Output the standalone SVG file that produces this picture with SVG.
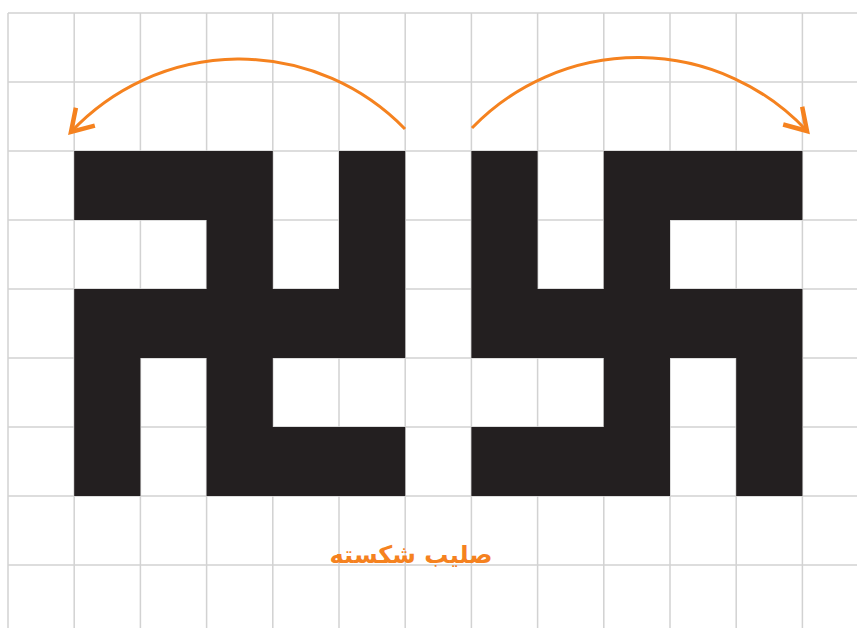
<svg xmlns="http://www.w3.org/2000/svg" width="857" height="628" viewBox="0 0 857 628">
<style>
.g{stroke:#d2d2d2;stroke-width:1.5;fill:none}
.blk{fill:#231f20}
.arc{fill:none;stroke:#f5821f;stroke-width:3}
.lbl{font-family:"DejaVu Sans",sans-serif;font-size:24px;font-weight:bold;fill:#f5821f}
</style>
<defs>
<marker id="ah" markerUnits="userSpaceOnUse" viewBox="-26 -16 30 32" refX="0" refY="0" markerWidth="30" markerHeight="32" orient="auto" overflow="visible">
<path d="M-21,-13 L0,0 L-21,13" fill="none" stroke="#f5821f" stroke-width="4.5" stroke-linejoin="miter"/>
</marker>
</defs>
<rect width="857" height="628" fill="#ffffff"/>
<g id="grid" class="g">
<path d="M8,13V628M74.2,13V628M140.4,13V628M206.6,13V628M272.8,13V628M339,13V628M405.2,13V628M471.4,13V628M537.6,13V628M603.8,13V628M670,13V628M736.2,13V628M802.4,13V628"/>
<path d="M8,13H857M8,82H857M8,151H857M8,220H857M8,289H857M8,358H857M8,427H857M8,496H857M8,565H857"/>
</g>
<g id="shape-left">
<path class="blk" d="M74.2,151H272.8V289H339V151H405.2V358H272.8V427H405.2V496H206.6V358H140.4V496H74.2V289H206.6V220H74.2Z"/>
</g>
<g id="shape-right">
<path class="blk" d="M802.4,151H603.8V289H537.6V151H471.4V358H603.8V427H471.4V496H670V358H736.2V496H802.4V289H670V220H802.4Z"/>
</g>
<g id="connectors">
<path class="arc" d="M405,129 A231,231 0 0,0 71,132" marker-end="url(#ah)"/>
<path class="arc" d="M472,128 A231,231 0 0,1 807,131" marker-end="url(#ah)"/>
</g>
<g id="label">
<text class="lbl" x="411" y="563" text-anchor="middle" direction="rtl">صلیب شکسته</text>
</g>
</svg>
